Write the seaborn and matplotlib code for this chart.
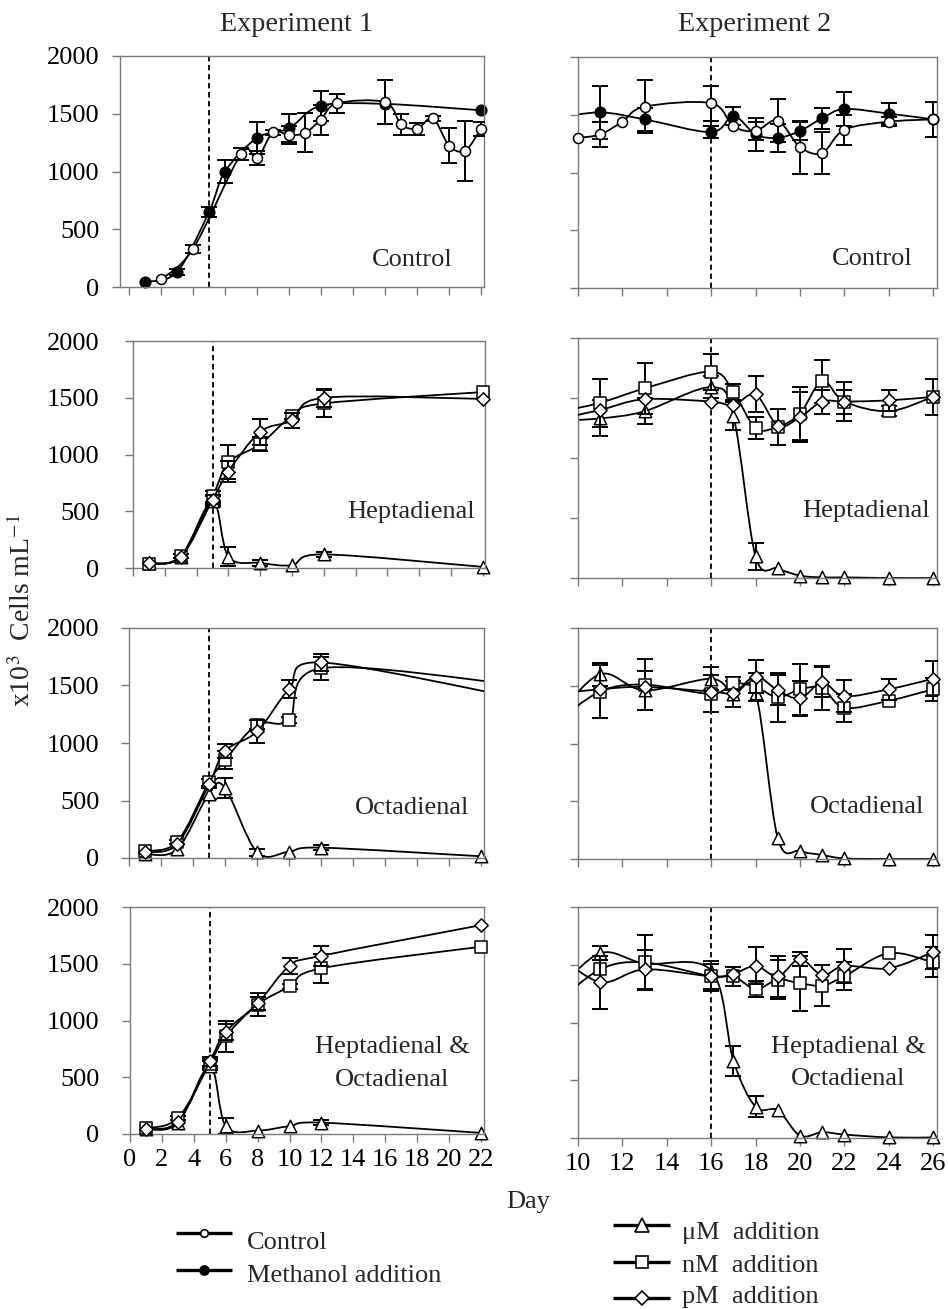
import numpy as np
import pandas as pd
import matplotlib
matplotlib.use("Agg")
import matplotlib.pyplot as plt
from matplotlib.path import Path
from matplotlib.patches import PathPatch
from matplotlib.lines import Line2D
import seaborn as sns

# ---------------- DATA (x10^3 cells mL-1) ----------------
# Experiment 1 - Control panel
E1C_OPEN_DAYS = [2, 4, 7, 8, 9, 10, 11, 12, 13, 16, 17, 18, 19, 20, 21, 22]
E1C_OPEN = [65, 330, 1150, 1115, 1340, 1315, 1335, 1450, 1590, 1600, 1410, 1370, 1460, 1225, 1180, 1370]
E1C_OPEN_ERR = [0, 35, 50, 60, 20, 80, 170, 130, 80, 190, 90, 50, 20, 150, 260, 60]
E1C_FILL_DAYS = [1, 3, 5, 6, 8, 10, 12, 16, 22]
E1C_FILL = [45, 130, 650, 1000, 1290, 1375, 1570, 1585, 1530]
E1C_FILL_ERR = [0, 25, 45, 100, 140, 120, 130, 0, 0]

# Experiment 1 - Heptadienal
E1H_DAYS = [1, 3, 5, 6, 8, 10, 12, 22]
E1H_UM = [40, 100, 590, 100, 45, 25, 120, 10]
E1H_UM_ERR = [0, 0, 40, 85, 25, 0, 20, 0]
E1H_NM = [35, 105, 630, 930, 1090, 1340, 1450, 1550]
E1H_NM_ERR = [0, 15, 50, 150, 60, 30, 120, 0]
E1H_PM = [45, 95, 600, 850, 1200, 1300, 1500, 1490]
E1H_PM_ERR = [0, 0, 40, 90, 115, 70, 80, 0]

# Experiment 1 - Octadienal
E1O_DAYS_UM = [1, 3, 5, 6, 8, 10, 12, 22]
E1O_UM = [35, 75, 560, 610, 50, 55, 90, 15]
E1O_UM_ERR = [0, 0, 50, 90, 30, 0, 20, 0]
E1O_DAYS = [1, 3, 5, 6, 8, 10, 12, 24]
E1O_NM = [60, 140, 660, 850, 1160, 1200, 1650, 1510]
E1O_NM_ERR = [0, 20, 30, 80, 40, 30, 100, 0]
E1O_PM = [50, 120, 640, 930, 1100, 1470, 1700, 1400]
E1O_PM_ERR = [0, 0, 0, 60, 100, 75, 70, 0]

# Experiment 1 - Heptadienal & Octadienal
E1B_DAYS = [1, 3, 5, 6, 8, 10, 12, 22]
E1B_UM = [40, 95, 600, 70, 30, 70, 100, 10]
E1B_UM_ERR = [0, 0, 40, 70, 0, 0, 20, 0]
E1B_NM = [50, 140, 620, 860, 1140, 1300, 1460, 1650]
E1B_NM_ERR = [0, 20, 40, 140, 100, 20, 130, 0]
E1B_PM = [45, 110, 640, 900, 1150, 1480, 1570, 1840]
E1B_PM_ERR = [0, 0, 40, 70, 60, 70, 90, 0]

# Experiment 2 - Control
E2C_OPEN_DAYS = [10, 11, 12, 13, 16, 17, 18, 19, 20, 21, 22, 24, 26]
E2C_OPEN = [1300, 1330, 1440, 1570, 1600, 1400, 1360, 1450, 1220, 1170, 1370, 1440, 1460]
E2C_OPEN_ERR = [0, 110, 0, 230, 150, 0, 80, 190, 230, 180, 130, 40, 0]
E2C_FILL_DAYS = [9, 11, 13, 16, 17, 18, 19, 20, 21, 22, 24, 26]
E2C_FILL = [1470, 1520, 1460, 1350, 1490, 1330, 1300, 1360, 1470, 1550, 1510, 1460]
E2C_FILL_ERR = [0, 230, 100, 50, 80, 140, 120, 80, 90, 150, 90, 150]

# Experiment 2 - treatments (shared sampling days)
E2_DAYS = [9, 11, 13, 16, 17, 18, 19, 20, 21, 22, 24, 26]
E2H_UM = [1310, 1330, 1390, 1590, 1350, 180, 80, 20, 5, 5, 0, 0]
E2H_UM_ERR = [0, 150, 110, 90, 120, 110, 0, 0, 0, 0, 0, 0]
E2H_NM = [1380, 1460, 1580, 1720, 1550, 1250, 1260, 1370, 1640, 1470, 1390, 1510]
E2H_NM_ERR = [0, 200, 210, 150, 70, 90, 150, 220, 180, 160, 40, 150]
E2H_PM = [1320, 1400, 1490, 1470, 1440, 1530, 1270, 1340, 1470, 1470, 1480, 1510]
E2H_PM_ERR = [0, 0, 0, 0, 0, 150, 0, 210, 100, 100, 90, 0]

E2O_UM = [1220, 1600, 1460, 1560, 1430, 1440, 180, 70, 35, 5, 0, 0]
E2O_UM_ERR = [0, 100, 170, 100, 110, 0, 0, 0, 0, 0, 0, 0]
E2O_NM = [1180, 1450, 1510, 1430, 1520, 1490, 1400, 1470, 1480, 1310, 1370, 1470]
E2O_NM_ERR = [0, 230, 220, 160, 60, 120, 210, 220, 190, 120, 0, 100]
E2O_PM = [1430, 1470, 1490, 1450, 1440, 1580, 1460, 1390, 1530, 1410, 1470, 1560]
E2O_PM_ERR = [0, 0, 0, 0, 0, 140, 130, 150, 130, 140, 90, 150]

E2B_UM = [1260, 1600, 1510, 1450, 670, 270, 240, 20, 50, 30, 5, 5]
E2B_UM_ERR = [0, 60, 0, 0, 130, 90, 0, 0, 0, 0, 0, 0]
E2B_NM = [1160, 1460, 1520, 1400, 1400, 1290, 1370, 1340, 1320, 1400, 1600, 1520]
E2B_NM_ERR = [0, 0, 240, 130, 80, 70, 170, 240, 180, 120, 0, 130]
E2B_PM = [1600, 1350, 1460, 1400, 1420, 1490, 1400, 1550, 1410, 1490, 1470, 1610]
E2B_PM_ERR = [0, 230, 170, 110, 0, 160, 180, 60, 0, 150, 0, 150]

PANEL_LABELS = ["Control", "Heptadienal", "Octadienal", ["Heptadienal &", "Octadienal"]]
LEGEND_LEFT = ["Control", "Methanol addition"]
LEGEND_RIGHT = ["\u03bcM  addition", "nM  addition", "pM  addition"]
Y_TICKS = [0, 500, 1000, 1500, 2000]
X_TICKS_E1 = list(range(0, 23, 2))
X_TICKS_E2 = list(range(10, 27, 2))
ADDITION_DAY = [5, 16]

# ---------------- STYLE ----------------
sns.set_theme(style="white")
plt.rcParams['font.family'] = ['Liberation Serif', 'DejaVu Serif']
plt.rcParams['mathtext.fontset'] = 'stix'
FS = 19.0
FS_TITLE = 20.3
SPINE = '#7a7a7a'

W, H = 948, 1309
fig = plt.figure(figsize=(W / 100, H / 100), dpi=100)


def add_axes_px(L, R, T, B):
    return fig.add_axes([L / W, 1 - B / H, (R - L) / W, (B - T) / H])


def smooth_path(x, y):
    x = np.asarray(x, float)
    y = np.asarray(y, float)
    n = len(x)
    verts = [(x[0], y[0])]
    codes = [Path.MOVETO]
    for i in range(n - 1):
        p0 = np.array([x[max(i - 1, 0)], y[max(i - 1, 0)]])
        p1 = np.array([x[i], y[i]])
        p2 = np.array([x[i + 1], y[i + 1]])
        p3 = np.array([x[min(i + 2, n - 1)], y[min(i + 2, n - 1)]])
        c1 = p1 + (p2 - p0) / 6.0
        c2 = p2 - (p3 - p1) / 6.0
        verts += [tuple(c1), tuple(c2), tuple(p2)]
        codes += [Path.CURVE4] * 3
    return Path(verts, codes)


MK = {
    'open': dict(marker='o', s=52, color='white'),
    'fill': dict(marker='o', s=58, color='black'),
    'um': dict(marker='^', s=80, color='white'),
    'nm': dict(marker='s', s=64, color='white'),
    'pm': dict(marker='D', s=46, color='white'),
}


def draw_series(ax, days, vals, errs, kind, z, xmin, xmax):
    days = np.asarray(days, float)
    vals = np.asarray(vals, float)
    errs = np.asarray(errs, float)
    ax.add_patch(PathPatch(smooth_path(days, vals), facecolor='none',
                           edgecolor='black', lw=1.3, zorder=z,
                           joinstyle='round', capstyle='round'))
    m = (errs > 0) & (days >= xmin) & (days <= xmax)
    if m.any():
        ax.errorbar(days[m], vals[m], yerr=errs[m], fmt='none', ecolor='black',
                    elinewidth=1.4, capsize=6, capthick=1.4, zorder=z + 0.1)
    vis = (days >= xmin) & (days <= xmax)
    df = pd.DataFrame({'day': days[vis], 'val': vals[vis]})
    st = MK[kind]
    sns.scatterplot(data=df, x='day', y='val', marker=st['marker'], s=st['s'],
                    color=st['color'], edgecolor='black', linewidth=1.1,
                    ax=ax, zorder=z + 0.2, clip_on=False, legend=False)


LEFT = [(120, 484, 56, 287, -0.5625, 16.0, 9.4),
        (133, 485, 341, 568, 0.0, 15.9, 18.7),
        (129, 484, 628, 858, 0.0, 16.0, 15.8),
        (130, 484, 907, 1134, 0.0, 15.95, 16.6)]
RIGHT = [(578, 937, 57, 288), (578, 937, 338, 578), (578, 937, 628, 859), (578, 937, 907, 1138)]

left_series = [
    [(E1C_FILL_DAYS, E1C_FILL, E1C_FILL_ERR, 'fill'), (E1C_OPEN_DAYS, E1C_OPEN, E1C_OPEN_ERR, 'open')],
    [(E1H_DAYS, E1H_UM, E1H_UM_ERR, 'um'), (E1H_DAYS, E1H_NM, E1H_NM_ERR, 'nm'), (E1H_DAYS, E1H_PM, E1H_PM_ERR, 'pm')],
    [(E1O_DAYS_UM, E1O_UM, E1O_UM_ERR, 'um'), (E1O_DAYS, E1O_NM, E1O_NM_ERR, 'nm'), (E1O_DAYS, E1O_PM, E1O_PM_ERR, 'pm')],
    [(E1B_DAYS, E1B_UM, E1B_UM_ERR, 'um'), (E1B_DAYS, E1B_NM, E1B_NM_ERR, 'nm'), (E1B_DAYS, E1B_PM, E1B_PM_ERR, 'pm')],
]
right_series = [
    [(E2C_FILL_DAYS, E2C_FILL, E2C_FILL_ERR, 'fill'), (E2C_OPEN_DAYS, E2C_OPEN, E2C_OPEN_ERR, 'open')],
    [(E2_DAYS, E2H_UM, E2H_UM_ERR, 'um'), (E2_DAYS, E2H_NM, E2H_NM_ERR, 'nm'), (E2_DAYS, E2H_PM, E2H_PM_ERR, 'pm')],
    [(E2_DAYS, E2O_UM, E2O_UM_ERR, 'um'), (E2_DAYS, E2O_NM, E2O_NM_ERR, 'nm'), (E2_DAYS, E2O_PM, E2O_PM_ERR, 'pm')],
    [(E2_DAYS, E2B_UM, E2B_UM_ERR, 'um'), (E2_DAYS, E2B_NM, E2B_NM_ERR, 'nm'), (E2_DAYS, E2B_PM, E2B_PM_ERR, 'pm')],
]


def style_axes(ax, xlim, xticks, ylabels, xlabels, ypad):
    ax.set_xlim(*xlim)
    ax.set_ylim(0, 2000)
    ax.set_xticks(xticks)
    ax.set_yticks(Y_TICKS)
    ax.set_xlabel('')
    ax.set_ylabel('')
    for sp in ax.spines.values():
        sp.set_color(SPINE)
        sp.set_linewidth(1.0)
        sp.set_visible(True)
    ax.tick_params(axis='both', direction='out', length=5.5, width=1.0,
                   color=SPINE, labelsize=FS, labelcolor='black')
    ax.tick_params(axis='y', pad=ypad, left=True, labelleft=ylabels)
    ax.tick_params(axis='x', pad=5, bottom=True, labelbottom=xlabels)
    ax.grid(False)
    ax.set_facecolor('white')


label_pos_left = [(412, 266), (411, 518), (412, 814), (392, [1053, 1086])]
label_pos_right = [(872, 265), (866, 517), (867, 813), (848, [1053, 1085])]

for i in range(4):
    L, R, T, B, x0, pxd, ypad = LEFT[i]
    ax = add_axes_px(L, R, T, B)
    xmax = x0 + (R - L) / pxd
    ax.axvline(ADDITION_DAY[0], color='black', lw=1.3, ls=(0, (3, 2)), zorder=1)
    for j, (d, v, e, k) in enumerate(left_series[i]):
        draw_series(ax, d, v, e, k, 2 + j, x0 - 0.01, xmax + 0.01)
    style_axes(ax, (x0, xmax), X_TICKS_E1, True, i == 3, ypad)

    L, R, T, B = RIGHT[i]
    ax2 = add_axes_px(L, R, T, B)
    xmax2 = 10 + (R - L) / 22.2
    ax2.axvline(ADDITION_DAY[1], color='black', lw=1.3, ls=(0, (3, 2)), zorder=1)
    for j, (d, v, e, k) in enumerate(right_series[i]):
        draw_series(ax2, d, v, e, k, 2 + j, 9.99, xmax2 + 0.01)
    style_axes(ax2, (10, xmax2), X_TICKS_E2, False, i == 3, 5)

for pos_list in (label_pos_left, label_pos_right):
    for i, (xc, yb) in enumerate(pos_list):
        lab = PANEL_LABELS[i]
        if isinstance(lab, list):
            for t, yy in zip(lab, yb):
                fig.text(xc / W, 1 - yy / H, t, ha='center', va='baseline', fontsize=FS)
        else:
            fig.text(xc / W, 1 - yb / H, lab, ha='center', va='baseline', fontsize=FS)

fig.text(297 / W, 1 - 31 / H, "Experiment 1", ha='center', va='baseline', fontsize=FS_TITLE)
fig.text(755 / W, 1 - 31 / H, "Experiment 2", ha='center', va='baseline', fontsize=FS_TITLE)
fig.text(22 / W, 1 - 611 / H, r"x10$^{3}$  Cells mL$^{-1}$", rotation=90,
         ha='center', va='center', fontsize=20)
fig.text(528 / W, 1 - 1202 / H, "Day", ha='center', va='center', fontsize=FS)


# ---------------- legends (keys drawn in figure pixels) ----------------
def legend_key(x0, x1, y, marker, ms, mfc):
    yy = 1 - y / H
    fig.add_artist(Line2D([x0 / W, x1 / W], [yy, yy], transform=fig.transFigure,
                          color='black', lw=2.4, solid_capstyle='butt'))
    fig.add_artist(Line2D([(x0 + x1) / 2 / W], [yy], transform=fig.transFigure,
                          marker=marker, markersize=ms, markerfacecolor=mfc,
                          markeredgecolor='black', markeredgewidth=1.2, ls='none'))


legend_key(176, 232, 1233, 'o', 5.5, 'white')
legend_key(176, 232, 1270, 'o', 6.5, 'black')
for lab, yb in zip(LEGEND_LEFT, [1249, 1282]):
    fig.text(247 / W, 1 - yb / H, lab, ha='left', va='baseline', fontsize=FS)

legend_key(613, 670, 1225, '^', 10, 'white')
legend_key(613, 670, 1262, 's', 8, 'white')
legend_key(613, 670, 1298, 'D', 7.5, 'white')
for lab, yb in zip(LEGEND_RIGHT, [1239, 1272, 1303]):
    fig.text(682 / W, 1 - yb / H, lab, ha='left', va='baseline', fontsize=FS)

fig.savefig("out.png", dpi=100, facecolor='white')
